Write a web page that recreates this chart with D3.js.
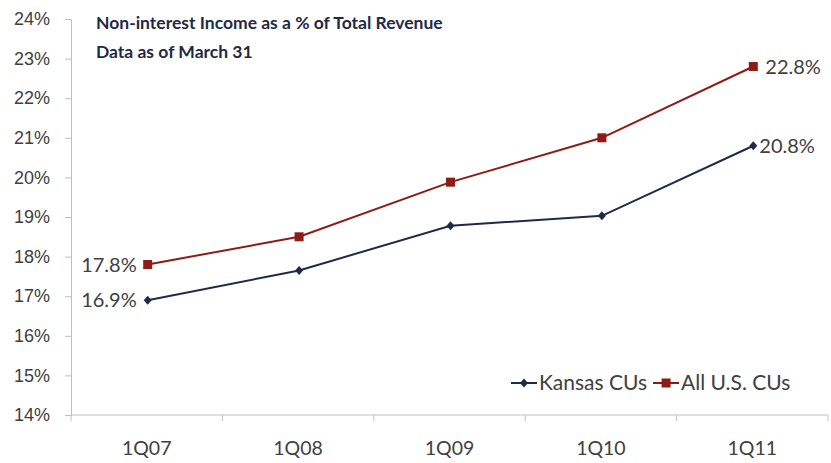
<!DOCTYPE html>
<html>
<head>
<meta charset="utf-8">
<script src="https://cdn.jsdelivr.net/npm/d3@7"></script>
<style>
  html, body { margin: 0; padding: 0; background: #fff; }
  svg { display: block; font-family: Lato, "Open Sans", sans-serif; }
</style>
</head>
<body>
<svg id="chart" width="831" height="463"></svg>
<script>
// Quarterly share of non-interest income in total revenue (%)
const quarters = ["1Q07", "1Q08", "1Q09", "1Q10", "1Q11"];
const kansas = [16.9, 17.65, 18.78, 19.03, 20.8];
const allUS = [17.8, 18.5, 19.88, 21.0, 22.8];
const yTicks = [14, 15, 16, 17, 18, 19, 20, 21, 22, 23, 24];
const titleLines = ["Non-interest Income as a % of Total Revenue", "Data as of March 31"];

const svg = d3.select("#chart");
const margin = { left: 71, right: 3, top: 19, bottom: 48 };
const W = 831, H = 463;

const x = d3.scaleBand().domain(quarters)
  .range([margin.left, W - margin.right]).paddingInner(0).paddingOuter(0);
const y = d3.scaleLinear().domain([14, 24]).range([H - margin.bottom, margin.top]);

const axisColor = "#bfbfbf";
const textColor = "#404040";

// Y axis
const yAxis = svg.append("g").attr("transform", `translate(${margin.left},0)`)
  .call(d3.axisLeft(y).tickValues(yTicks).tickFormat(d => d + "%").tickSize(6).tickPadding(15));
yAxis.select(".domain").attr("stroke", axisColor);
yAxis.selectAll(".tick line").attr("stroke", axisColor);
yAxis.selectAll(".tick text").attr("fill", textColor).style("font-size", "18px");

// X axis with ticks at category boundaries
const xAxisG = svg.append("g").attr("transform", `translate(0,${y(14)})`);
xAxisG.append("line").attr("x1", margin.left).attr("x2", W - margin.right)
  .attr("stroke", axisColor);
const bounds = quarters.map(q => x(q)).concat([x(quarters[quarters.length - 1]) + x.bandwidth()]);
xAxisG.selectAll("line.tk").data(bounds).join("line").attr("class", "tk")
  .attr("x1", d => d).attr("x2", d => d).attr("y1", 0).attr("y2", 6).attr("stroke", axisColor);
xAxisG.selectAll("text").data(quarters).join("text")
  .attr("x", d => x(d) + x.bandwidth() / 2).attr("y", 40)
  .attr("text-anchor", "middle").attr("fill", textColor).style("font-size", "19.5px").text(d => d);

const cx = q => x(q) + x.bandwidth() / 2 + 1;
const line = d3.line().x((d, i) => cx(quarters[i])).y(d => y(d));

const series = [
  { name: "Kansas CUs", values: kansas, color: "#1d2b4b", marker: "diamond" },
  { name: "All U.S. CUs", values: allUS, color: "#8c1c15", marker: "square" }
];

function drawMarker(g, type, color, px, py) {
  if (type === "square") {
    g.append("rect").attr("x", px - 4.5).attr("y", py - 4.5).attr("width", 9).attr("height", 9).attr("fill", color);
  } else {
    g.append("path").attr("d", `M${px},${py - 4.5}L${px + 4},${py}L${px},${py + 4.5}L${px - 4},${py}Z`).attr("fill", color);
  }
}

series.forEach(s => {
  svg.append("path").datum(s.values).attr("d", line)
    .attr("fill", "none").attr("stroke", s.color).attr("stroke-width", 2);
  const g = svg.append("g");
  s.values.forEach((v, i) => drawMarker(g, s.marker, s.color, cx(quarters[i]), y(v)));
});

// Data labels at the first and last points
const labelStyle = (sel, size) => sel.attr("fill", textColor).style("font-size", size + "px");
series.forEach(s => {
  const first = s.values[0], last = s.values[s.values.length - 1];
  svg.append("text").attr("x", cx(quarters[0]) - 11).attr("y", y(first) + 7)
    .attr("text-anchor", "end").call(labelStyle, 20).text(first.toFixed(1) + "%");
  svg.append("text").attr("x", cx(quarters[quarters.length - 1]) + (s.marker === "square" ? 12 : 6)).attr("y", y(last) + 7)
    .attr("text-anchor", "start").call(labelStyle, 20).text(last.toFixed(1) + "%");
});

// Title
svg.append("g").selectAll("text").data(titleLines).join("text")
  .attr("x", 96).attr("y", (d, i) => 29 + i * 29)
  .attr("fill", "#1f2a44").style("font-size", "17.5px").style("font-weight", "bold").text(d => d);

// Legend
const legend = svg.append("g").attr("transform", "translate(511,383)");
let lx = 0;
series.forEach(s => {
  const g = legend.append("g").attr("transform", `translate(${lx},0)`);
  g.append("line").attr("x1", 0).attr("x2", 26).attr("y1", 0).attr("y2", 0).attr("stroke", s.color).attr("stroke-width", 2);
  drawMarker(g, s.marker, s.color, 13, 0);
  const t = g.append("text").attr("x", 28).attr("y", 7).call(labelStyle, 21).text(s.name);
  lx += 28 + t.node().getComputedTextLength() + 6;
});
</script>
</body>
</html>
